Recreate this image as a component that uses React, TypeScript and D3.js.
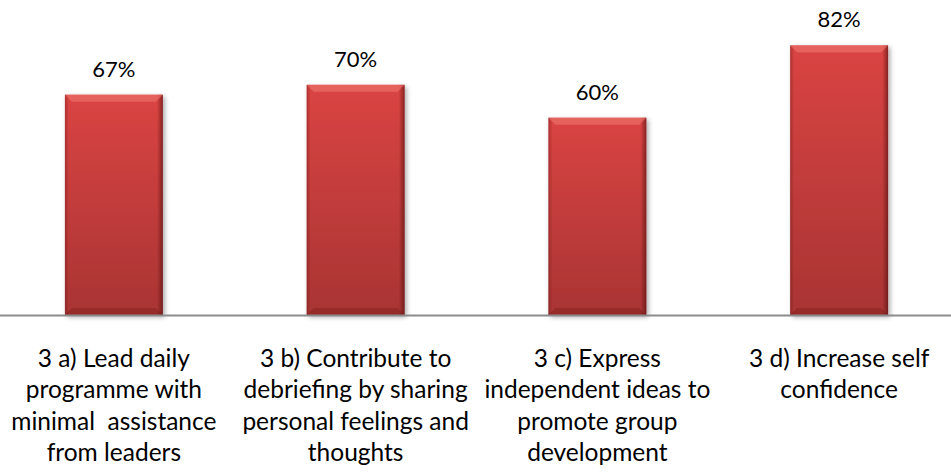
import { useMemo } from "react";
import * as d3 from "d3";

const categories = ["3a", "3b", "3c", "3d"];
const categoryLines = [
    ["3 a) Lead daily", "programme with", "minimal  assistance", "from leaders"],
    ["3 b) Contribute to", "debriefing by sharing", "personal feelings and", "thoughts"],
    ["3 c) Express", "independent ideas to", "promote group", "development"],
    ["3 d) Increase self", "confidence"],
];
const values = [67, 70, 60, 82];

const width = 951;
const height = 472;
const baseline = 315;

export default function App() {
    const x = useMemo(
        () => d3.scaleBand<string>().domain(categories).range([-7, 960]).paddingInner(0.595).paddingOuter(0.2975),
        []
    );
    const y = useMemo(() => d3.scaleLinear().domain([0, 95.8]).range([baseline, 0]), []);

    const font = "Lato, Carlito, 'Noto Sans', sans-serif";

    return (
        <svg
            width={width}
            height={height}
            style={{ position: "absolute", left: 0, top: 0, display: "block", background: "#fff" }}
        >
            <defs>
                <linearGradient id="barV" x1="0" y1="0" x2="0" y2="1">
                    <stop offset="0" stopColor="#da4443" />
                    <stop offset="1" stopColor="#a93433" />
                </linearGradient>
                <linearGradient id="barH" x1="0" y1="0" x2="1" y2="0">
                    <stop offset="0" stopColor="#5a1010" stopOpacity="0.35" />
                    <stop offset="0.04" stopColor="#5a1010" stopOpacity="0" />
                    <stop offset="0.94" stopColor="#5a1010" stopOpacity="0" />
                    <stop offset="1" stopColor="#4a0c0c" stopOpacity="0.6" />
                </linearGradient>
                <filter id="shadow" x="-20%" y="-10%" width="140%" height="120%">
                    <feGaussianBlur in="SourceAlpha" stdDeviation="2.5" />
                    <feOffset dx="2" dy="2" result="b" />
                    <feComponentTransfer>
                        <feFuncA type="linear" slope="0.35" />
                    </feComponentTransfer>
                    <feMerge>
                        <feMergeNode />
                        <feMergeNode in="SourceGraphic" />
                    </feMerge>
                </filter>
            </defs>

            {values.map((v, i) => {
                const bx = x(categories[i])!;
                const bw = x.bandwidth();
                const top = y(v);
                const h = baseline - top;
                const bev = 7;
                return (
                    <g key={i}>
                        <g filter="url(#shadow)">
                            <rect x={bx} y={top} width={bw} height={h} fill="url(#barV)" />
                        </g>
                        <rect x={bx} y={top} width={bw} height={h} fill="url(#barH)" />
                        <path
                            d={`M${bx},${top} L${bx + bw},${top} L${bx + bw - bev},${top + bev} L${bx + bev},${top + bev} Z`}
                            fill="#f07a72"
                            opacity={0.55}
                        />
                        <path
                            d={`M${bx},${baseline} L${bx + bw},${baseline} L${bx + bw - bev},${baseline - bev} L${bx + bev},${baseline - bev} Z`}
                            fill="#6a1515"
                            opacity={0.3}
                        />
                        <text
                            x={bx + bw / 2}
                            y={top - 18}
                            textAnchor="middle"
                            fontFamily={font}
                            fontSize={22}
                            fill="#000"
                        >
                            {v}%
                        </text>
                    </g>
                );
            })}

            <line x1={0} x2={width} y1={baseline + 0.5} y2={baseline + 0.5} stroke="#8c8c8c" strokeWidth={2} />

            {categoryLines.map((lines, i) => {
                const cx = x(categories[i])! + x.bandwidth() / 2;
                return (
                    <text key={i} textAnchor="middle" fontFamily={font} fontSize={24.5} fill="#000">
                        {lines.map((l, j) => (
                            <tspan key={j} x={cx} y={367 + j * 31.4} style={{ whiteSpace: "pre" }}>
                                {l}
                            </tspan>
                        ))}
                    </text>
                );
            })}
        </svg>
    );
}
